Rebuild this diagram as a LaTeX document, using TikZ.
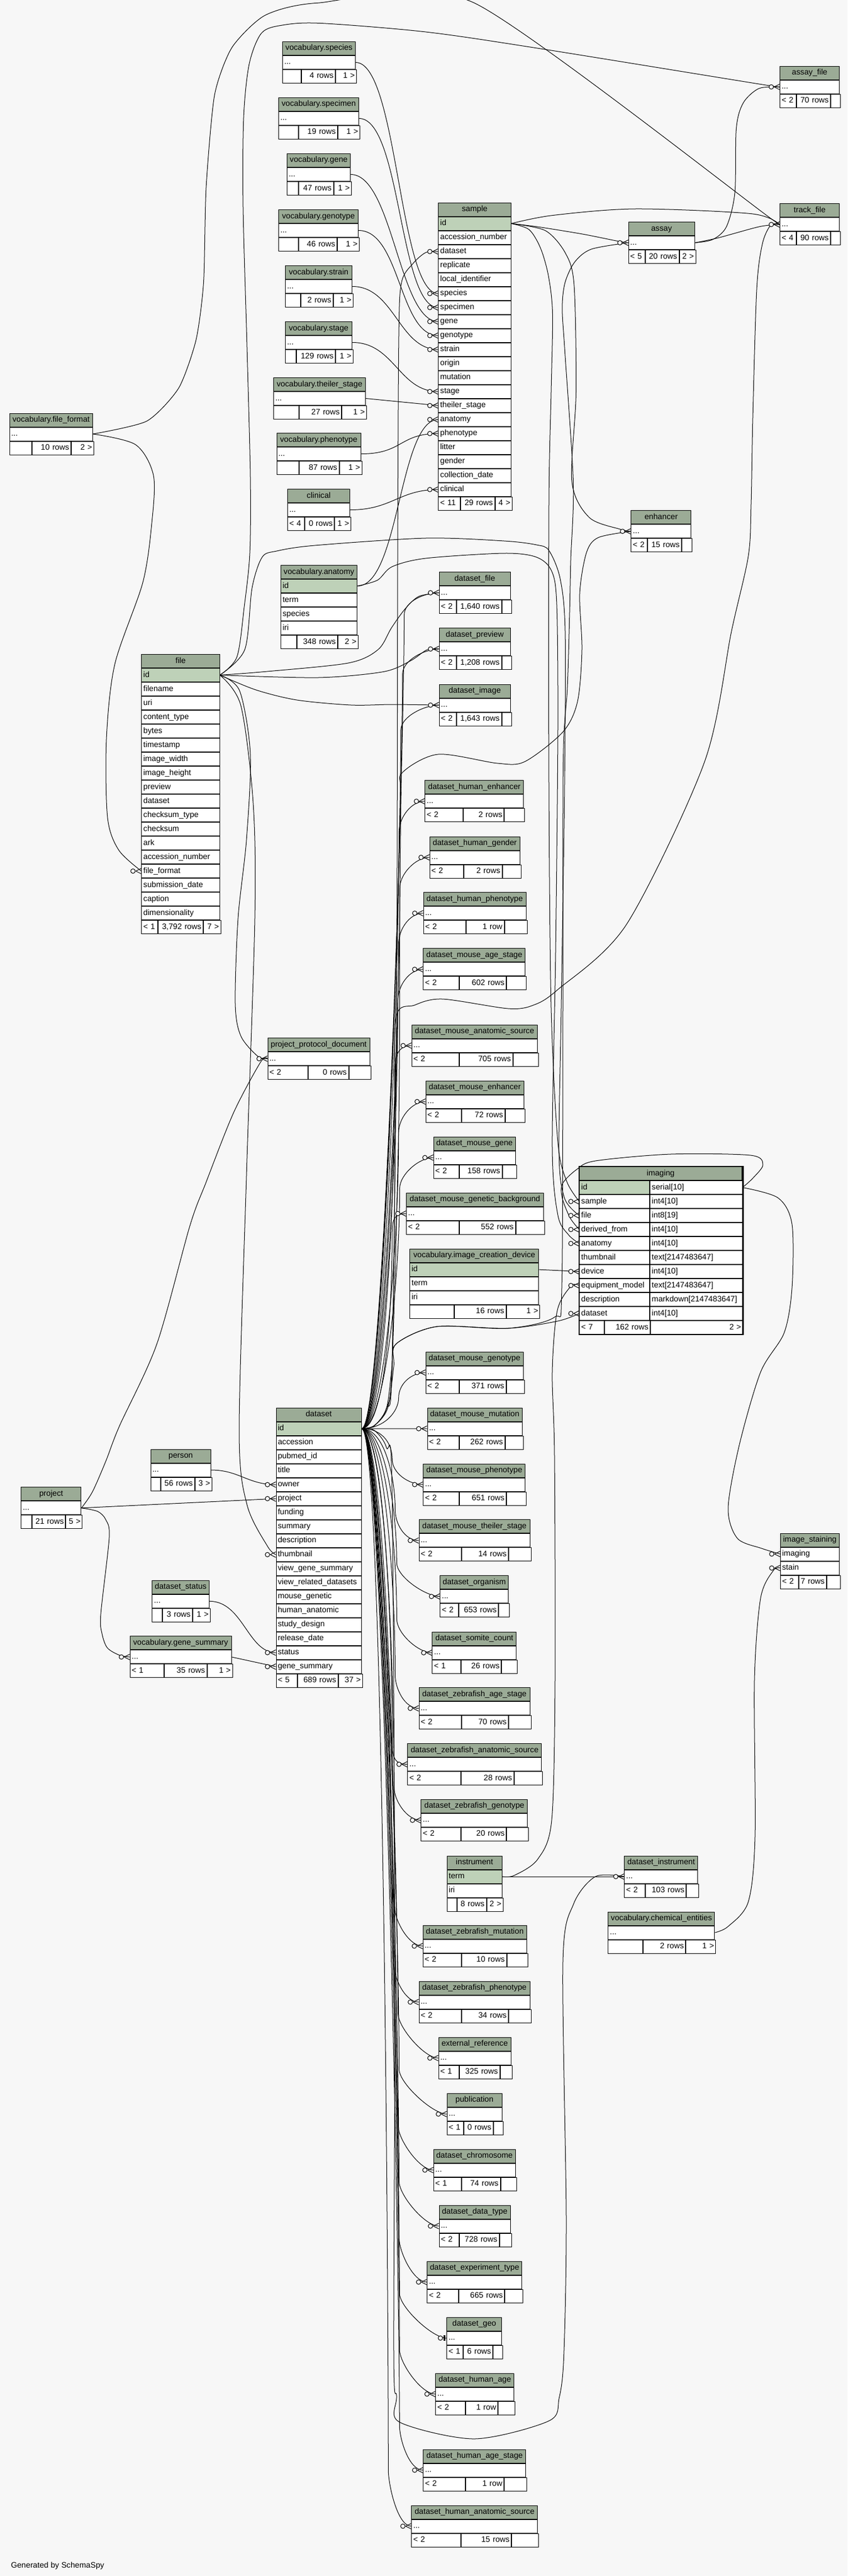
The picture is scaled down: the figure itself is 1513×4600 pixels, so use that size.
\documentclass[tikz,border=0pt]{standalone}
\usepackage{fontspec}
\setmainfont{Liberation Sans}
\usetikzlibrary{positioning}
\definecolor{bgc}{HTML}{F7F7F7}
\definecolor{hdrc}{HTML}{9BAB96}
\definecolor{pkc}{HTML}{BED1B8}
\newcommand\tabfont{\fontsize{14.2}{16}\selectfont}
\pgfdeclarelayer{bg}\pgfdeclarelayer{lines}\pgfsetlayers{bg,lines,main}
\tikzset{
  cell/.style={draw, fill=white, line width=1pt, font=\tabfont, inner xsep=3pt, inner ysep=0pt,
    minimum height=24pt, text height=10.5pt, text depth=3.5pt},
  hdr/.style={cell, fill=hdrc, align=center, anchor=north west},
  pk/.style={fill=pkc},
  edge/.style={draw, line width=1pt},
}
\newcommand\dbtab[5]{\pgfmathsetmacro\tabw{#4}\pgfmathsetmacro\tabtw{#4-6}%
  \node[hdr, text width=\tabtw pt] (#1) at (#2,#3) {#5};\gdef\lastcell{#1}}
\newcommand\dbfld[3][]{\node[cell, #1, align=left, text width=\tabtw pt, below=0pt of \lastcell] (#2) {#3};\xdef\lastcell{#2}}
\newcommand\dbtwo[4][]{\node[cell, #1, align=left, text width=119pt, anchor=north west] (#2) at (\lastcell.south west) {#3};
  \node[cell, align=left, text width=158.5pt, right=0pt of #2] (#2-t) {#4};\xdef\lastcell{#2}}
\newcommand\dbfoot[6]{\pgfmathsetmacro\fla{#2-6}\pgfmathsetmacro\flb{\tabw-#2-#3-6}\pgfmathsetmacro\flc{#3-6}%
  \node[cell, align=left, text width=\fla pt, anchor=north west] (#1-fl) at (\lastcell.south west) {\mbox{#4}};
  \node[cell, align=right, text width=\flb pt, right=0pt of #1-fl] (#1-fm) {\mbox{#5}};
  \node[cell, align=right, text width=\flc pt, right=0pt of #1-fm] (#1-fr) {\mbox{#6}};}
\newcommand\crow[1]{\draw[edge] ([xshift=-10pt]#1) -- ([yshift=5pt]#1) ([xshift=-10pt]#1) -- ([yshift=-5pt]#1);
  \draw[edge, fill=bgc] ([xshift=-15pt]#1) circle (4pt);}
\begin{document}
\begin{tikzpicture}[x=1pt, y=-1pt]
\useasboundingbox (0,0) rectangle (1513,4600);
\begin{pgfonlayer}{bg}
\fill[bgc] (0,0) rectangle (1513,4600);
\end{pgfonlayer}

\dbtab{vsp}{504}{74}{130}{vocabulary.species}\dbfld{vsp-x}{...}\dbfoot{vsp}{32.5}{37}{}{4 rows}{1 >}
\dbtab{vspec}{497}{174}{143}{vocabulary.specimen}\dbfld{vspec-x}{...}\dbfoot{vspec}{35}{39}{}{19 rows}{1 >}
\dbtab{vgene}{512}{274}{113}{vocabulary.gene}\dbfld{vgene-x}{...}\dbfoot{vgene}{20}{31.5}{}{47 rows}{1 >}
\dbtab{vgt}{497}{374}{142}{vocabulary.genotype}\dbfld{vgt-x}{...}\dbfoot{vgt}{35}{39}{}{46 rows}{1 >}
\dbtab{vstr}{509}{474}{119}{vocabulary.strain}\dbfld{vstr-x}{...}\dbfoot{vstr}{27}{35}{}{2 rows}{1 >}
\dbtab{vstage}{509}{574}{119}{vocabulary.stage}\dbfld{vstage-x}{...}\dbfoot{vstage}{19}{31}{}{129 rows}{1 >}
\dbtab{vts}{488}{674}{164}{vocabulary.theiler\_stage}\dbfld{vts-x}{...}\dbfoot{vts}{45}{44}{}{27 rows}{1 >}
\dbtab{vphen}{493.5}{773}{150}{vocabulary.phenotype}\dbfld{vphen-x}{...}\dbfoot{vphen}{39}{40}{}{87 rows}{1 >}
\dbtab{clin}{513}{873}{111}{clinical}\dbfld{clin-x}{...}\dbfoot{clin}{30}{28.6}{< 4}{0 rows}{1 >}
\dbtab{vanat}{501}{1009}{136}{vocabulary.anatomy}\dbfld[pk]{vanat-id}{id}\dbfld{vanat-term}{term}\dbfld{vanat-species}{species}\dbfld{vanat-iri}{iri}
\dbfoot{vanat}{27.6}{36}{}{348 rows}{2 >}
\dbtab{vff}{16.5}{737.5}{148.5}{vocabulary.file\_format}\dbfld{vff-x}{...}\dbfoot{vff}{39}{40}{}{10 rows}{2 >}

\dbtab{file}{252.4}{1168}{139.1}{file}
\dbfld[pk]{file-id}{id}
\foreach \k/\lbl in {filename/filename, uri/uri, ctype/content\_type, bytes/bytes, timestamp/timestamp,
  width/image\_width, height/image\_height, preview/preview, dataset/dataset, cstype/checksum\_type,
  checksum/checksum, ark/ark, accnum/accession\_number, fileformat/file\_format,
  subdate/submission\_date, caption/caption, dim/dimensionality}{\dbfld{file-\k}{\lbl}}
\dbfoot{file}{29}{30.5}{< 1}{3,792 rows}{7 >}

\dbtab{sample}{782.4}{361.7}{129.2}{sample}
\dbfld[pk]{sample-id}{id}
\foreach \k/\lbl in {accnum/accession\_number, dataset/dataset, replicate/replicate, localid/local\_identifier,
  species/species, specimen/specimen, gene/gene, genotype/genotype, strain/strain, origin/origin,
  mutation/mutation, stage/stage, theiler/theiler\_stage, anatomy/anatomy, phenotype/phenotype,
  litter/litter, gender/gender, coldate/collection\_date, clinical/clinical}{\dbfld{sample-\k}{\lbl}}
\dbfoot{sample}{39}{30}{< 11}{29 rows}{4 >}

\dbtab{assay}{1121.7}{396}{117.8}{assay}\dbfld{assay-x}{...}\dbfoot{assay}{29}{29}{< 5}{20 rows}{2 >}
\dbtab{afile}{1392}{117.7}{106}{assay\_file}\dbfld{afile-x}{...}\dbfoot{afile}{28.6}{17}{< 2}{70 rows}{}
\dbtab{tfile}{1392}{363.4}{106}{track\_file}\dbfld{tfile-x}{...}\dbfoot{tfile}{28.6}{17}{< 4}{90 rows}{}
\dbtab{enh}{1126.4}{911.3}{107}{enhancer}\dbfld{enh-x}{...}\dbfoot{enh}{29}{18.4}{< 2}{15 rows}{}

\dbtab{dsfile}{783.6}{1021}{127}{dataset\_file}\dbfld{dsfile-x}{...}\dbfoot{dsfile}{30}{17}{< 2}{1,640 rows}{}
\dbtab{dsprev}{783.6}{1121.4}{127}{dataset\_preview}\dbfld{dsprev-x}{...}\dbfoot{dsprev}{30}{17}{< 2}{1,208 rows}{}
\dbtab{dsimg}{783.6}{1221.6}{127}{dataset\_image}\dbfld{dsimg-x}{...}\dbfoot{dsimg}{30}{17}{< 2}{1,643 rows}{}
\dbtab{dhenh}{758.4}{1393.3}{176}{dataset\_human\_enhancer}\dbfld{dhenh-x}{...}\dbfoot{dhenh}{68}{36}{< 2}{2 rows}{}
\dbtab{dhgen}{766.7}{1493.5}{161}{dataset\_human\_gender}\dbfld{dhgen-x}{...}\dbfoot{dhgen}{60}{33}{< 2}{2 rows}{}
\dbtab{dhphen}{755.5}{1593.2}{183}{dataset\_human\_phenotype}\dbfld{dhphen-x}{...}\dbfoot{dhphen}{75}{40}{< 2}{1 row}{}
\dbtab{dmage}{755.3}{1693.4}{182}{dataset\_mouse\_age\_stage}\dbfld{dmage-x}{...}\dbfoot{dmage}{63.5}{35}{< 2}{602 rows}{}
\dbtab{dmanat}{734.7}{1829.6}{224}{dataset\_mouse\_anatomic\_source}\dbfld{dmanat-x}{...}\dbfoot{dmanat}{84}{45}{< 2}{705 rows}{}
\dbtab{dmenh}{759.7}{1929.6}{175}{dataset\_mouse\_enhancer}\dbfld{dmenh-x}{...}\dbfoot{dmenh}{63}{35}{< 2}{72 rows}{}
\dbtab{dmgene}{773.6}{2029.6}{146}{dataset\_mouse\_gene}\dbfld{dmgene-x}{...}\dbfoot{dmgene}{45}{25}{< 2}{158 rows}{}
\dbtab{dmgb}{725.2}{2129.6}{244.4}{dataset\_mouse\_genetic\_background}\dbfld{dmgb-x}{...}\dbfoot{dmgb}{93.5}{51}{< 2}{552 rows}{}
\dbtab{vicd}{731.3}{2229.6}{230}{vocabulary.image\_creation\_device}\dbfld[pk]{vicd-id}{id}\dbfld{vicd-term}{term}\dbfld{vicd-iri}{iri}
\dbfoot{vicd}{79}{59.6}{}{16 rows}{1 >}

\dbtab{img}{1034.2}{2083}{289.5}{imaging}
\dbtwo[pk]{img-id}{id}{serial[10]}
\dbtwo{img-sample}{sample}{int4[10]}
\dbtwo{img-file}{file}{int8[19]}
\dbtwo{img-derived}{derived\_from}{int4[10]}
\dbtwo{img-anatomy}{anatomy}{int4[10]}
\dbtwo{img-thumb}{thumbnail}{text[2147483647]}
\dbtwo{img-device}{device}{int4[10]}
\dbtwo{img-equip}{equipment\_model}{text[2147483647]}
\dbtwo{img-desc}{description}{markdown[2147483647]}
\dbtwo{img-dataset}{dataset}{int4[10]}
\dbfoot{img}{44}{164.5}{< 7}{162 rows}{2 >}
\draw[line width=2.5pt] (img.north west) rectangle (img-fr.south east);

\dbtab{dmgt}{759.7}{2413.5}{174}{dataset\_mouse\_genotype}\dbfld{dmgt-x}{...}\dbfoot{dmgt}{59}{32}{< 2}{371 rows}{}
\dbtab{dmmut}{762.5}{2513.7}{169}{dataset\_mouse\_mutation}\dbfld{dmmut-x}{...}\dbfoot{dmmut}{56}{32}{< 2}{262 rows}{}
\dbtab{dmphen}{755.3}{2613.5}{182}{dataset\_mouse\_phenotype}\dbfld{dmphen-x}{...}\dbfoot{dmphen}{63.5}{35}{< 2}{651 rows}{}
\dbtab{dmts}{747.5}{2713.4}{198}{dataset\_mouse\_theiler\_stage}\dbfld{dmts-x}{...}\dbfoot{dmts}{75}{39.5}{< 2}{14 rows}{}
\dbtab{dorg}{785.3}{2813.3}{122}{dataset\_organism}\dbfld{dorg-x}{...}\dbfoot{dorg}{33}{19}{< 2}{653 rows}{}
\dbtab{dsom}{771.4}{2913.8}{150}{dataset\_somite\_count}\dbfld{dsom-x}{...}\dbfoot{dsom}{51}{28}{< 1}{26 rows}{}
\dbtab{dzage}{747.5}{3013.1}{198}{dataset\_zebrafish\_age\_stage}\dbfld{dzage-x}{...}\dbfoot{dzage}{75}{39.5}{< 2}{70 rows}{}
\dbtab{dzanat}{727.4}{3113}{239}{dataset\_zebrafish\_anatomic\_source}\dbfld{dzanat-x}{...}\dbfoot{dzanat}{95}{50.7}{< 2}{28 rows}{}
\dbtab{dzgt}{751.4}{3212.9}{190}{dataset\_zebrafish\_genotype}\dbfld{dzgt-x}{...}\dbfoot{dzgt}{71}{39}{< 2}{20 rows}{}
\dbtab{instr}{797.6}{3313.5}{98}{instrument}\dbfld[pk]{instr-term}{term}\dbfld{instr-iri}{iri}\dbfoot{instr}{17}{29}{}{8 rows}{2 >}
\dbtab{dinstr}{1114.4}{3313.5}{131}{dataset\_instrument}\dbfld{dinstr-x}{...}\dbfoot{dinstr}{37}{22}{< 2}{103 rows}{}
\dbtab{vchem}{1085.4}{3413.5}{190}{vocabulary.chemical\_entities}\dbfld{vchem-x}{...}\dbfoot{vchem}{62}{53}{}{2 rows}{1 >}
\dbtab{dzmut}{754.7}{3437.6}{185}{dataset\_zebrafish\_mutation}\dbfld{dzmut-x}{...}\dbfoot{dzmut}{68}{37}{< 2}{10 rows}{}
\dbtab{dzphen}{747.5}{3537.6}{198}{dataset\_zebrafish\_phenotype}\dbfld{dzphen-x}{...}\dbfoot{dzphen}{75}{39.5}{< 2}{34 rows}{}
\dbtab{extref}{782.5}{3637.6}{129}{external\_reference}\dbfld{extref-x}{...}\dbfoot{extref}{36}{21}{< 1}{325 rows}{}
\dbtab{pub}{797.6}{3737.6}{98}{publication}\dbfld{pub-x}{...}\dbfoot{pub}{29}{17}{< 1}{0 rows}{}
\dbtab{dchr}{773.6}{3837.6}{146}{dataset\_chromosome}\dbfld{dchr-x}{...}\dbfoot{dchr}{49}{28}{< 1}{74 rows}{}
\dbtab{ddt}{783.5}{3937.6}{127}{dataset\_data\_type}\dbfld{ddt-x}{...}\dbfoot{ddt}{35}{21}{< 2}{728 rows}{}
\dbtab{dext}{762.3}{4037.6}{169}{dataset\_experiment\_type}\dbfld{dext-x}{...}\dbfoot{dext}{56}{32}{< 2}{665 rows}{}
\dbtab{dgeo}{797.3}{4137.6}{98}{dataset\_geo}\dbfld{dgeo-x}{...}\dbfoot{dgeo}{29}{17}{< 1}{6 rows}{}
\dbtab{dhage}{777.3}{4237.6}{140}{dataset\_human\_age}\dbfld{dhage-x}{...}\dbfoot{dhage}{53}{30}{< 2}{1 row}{}
\dbtab{dhas}{755.3}{4373.5}{183}{dataset\_human\_age\_stage}\dbfld{dhas-x}{...}\dbfoot{dhas}{75}{40}{< 2}{1 row}{}
\dbtab{dhanat}{734.3}{4473.5}{225}{dataset\_human\_anatomic\_source}\dbfld{dhanat-x}{...}\dbfoot{dhanat}{88}{48}{< 2}{15 rows}{}
\dbtab{istain}{1392.8}{2737.5}{105}{image\_staining}\dbfld{istain-imaging}{imaging}\dbfld{istain-stain}{stain}\dbfoot{istain}{32}{24}{< 2}{7 rows}{}
\dbtab{ppd}{477.5}{1853}{182}{project\_protocol\_document}\dbfld{ppd-x}{...}\dbfoot{ppd}{71}{39}{< 2}{0 rows}{}

\dbtab{ds}{492.5}{2513.6}{152.2}{dataset}
\dbfld[pk]{ds-id}{id}
\foreach \k/\lbl in {accession/accession, pubmed/pubmed\_id, title/title, owner/owner, project/project,
  funding/funding, summary/summary, description/description, thumbnail/thumbnail,
  viewgene/view\_gene\_summary, viewrel/view\_related\_datasets, mousegen/mouse\_genetic,
  humanana/human\_anatomic, study/study\_design, release/release\_date, status/status,
  genesummary/gene\_summary}{\dbfld{ds-\k}{\lbl}}
\dbfoot{ds}{37}{43}{< 5}{689 rows}{37 >}
\dbtab{person}{268.5}{2587.5}{107.2}{person}\dbfld{person-x}{...}\dbfoot{person}{17}{30}{}{56 rows}{3 >}
\dbtab{project}{37.3}{2655.3}{107.1}{project}\dbfld{project-x}{...}\dbfoot{project}{18.4}{29}{}{21 rows}{5 >}
\dbtab{dstat}{271.4}{2821.8}{101.4}{dataset\_status}\dbfld{dstat-x}{...}\dbfoot{dstat}{18}{31}{}{3 rows}{1 >}
\dbtab{vgs}{231.7}{2921.4}{180.8}{vocabulary.gene\_summary}\dbfld{vgs-x}{...}\dbfoot{vgs}{60}{45}{< 1}{35 rows}{1 >}

\node[font=\tabfont, anchor=base west] (credit) at (16,4585) {Generated by SchemaSpy};

\begin{pgfonlayer}{lines}
\foreach \p/\c in {vsp-x/sample-species, vspec-x/sample-specimen, vgene-x/sample-gene, vgt-x/sample-genotype,
  vstr-x/sample-strain, vstage-x/sample-stage, vphen-x/sample-phenotype, clin-x/sample-clinical, vanat-id/sample-anatomy}
  \draw[edge] (\p.east) .. controls +(75,0) and +(-70,0) .. (\c.west);
\draw[edge] (vts-x.east) -- (sample-theiler.west);
\draw[edge] plot[smooth] coordinates {(vanat-id.east) (674,1036) (700,1012) (760,997) (900,988) (958,995) (985,1020)
  (994,1080) (996,1300) (992,1700) (986,2050) (996,2170) (1015,2205) (img-anatomy.west)};

\draw[edge] plot[smooth] coordinates {(file-id.east) (423,1173) (436,1084) (446,988) (447,852) (441,620) (434,370)
  (435,210) (445,114) (467,59) (504,45) (572,41.5) (760,57) (959,86) (1355,150) (afile-x.west)};
\draw[edge] plot[smooth, tension=0.4] coordinates {(vff-x.east) (262,752) (319,693) (350,607) (363.5,504) (368,335)
  (383,170) (414,85) (472.6,27.7) (566,5.4) (847,5.4) (1376,390) (tfile-x.west)};
\draw[edge] plot[smooth] coordinates {(vff-x.east) (242,794) (274,849) (271,934) (255,1040) (205,1186) (190,1320)
  (192,1460) (212,1518) (file-fileformat.west)};
\draw[edge] plot[smooth] coordinates {(file-id.east) (471.5,1199.5) (621.7,1184) (675,1160) (699,1121) (723.5,1087)
  (747.7,1065) (dsfile-x.west)};
\draw[edge] plot[smooth] coordinates {(file-id.east) (568,1210) (684.7,1199.5) (733,1180) (762,1160.5) (dsprev-x.west)};
\draw[edge] plot[smooth] coordinates {(file-id.east) (457,1232) (530,1250) (626.6,1259) (700,1258) (dsimg-x.west)};
\draw[edge] plot[smooth] coordinates {(file-id.east) (428,1234) (447,1347) (440,1500) (425,1640) (420,1792) (430,1850)
  (460,1886) (ppd-x.west)};
\draw[edge] plot[smooth] coordinates {(file-id.east) (430,1260) (452,1434) (455,1640) (440,2100) (427,2555) (441,2687)
  (477.5,2761) (ds-thumbnail.west)};
\draw[edge] plot[smooth] coordinates {(file-id.east) (437,1160) (450,1050) (468,995) (494,984) (562,974) (760,961)
  (900,966) (958,973) (980,983) (1000,1033) (1009,1127) (1008,1400) (1002,1800) (998,2060) (1008,2140) (img-file.west)};

\draw[edge] plot[smooth] coordinates {(sample-id.east) (960,405) (1040,418) (1100,430) (assay-x.west)};
\draw[edge] plot[smooth] coordinates {(sample-id.east) (986.5,384.6) (1134.5,373) (1341.6,381.7) (tfile-x.west)};
\draw[edge] plot[smooth] coordinates {(sample-id.east) (944.6,410) (965,443) (979,492) (986.5,560) (984,700) (980,900)
  (980,1400) (984,1800) (996,2040) (1012,2110) (img-sample.west)};
\draw[edge] plot[smooth] coordinates {(sample-id.east) (974,412) (1010,453) (1025,510) (1028.5,700) (1021,860) (1052,924)
  (1107,945) (enh-x.west)};
\draw[edge] plot[smooth] coordinates {(assay-x.east) (1272.5,427.7) (1297,404.7) (1312,344) (1314.5,229.6) (1327,183.7)
  (1355,158) (afile-x.west)};
\draw[edge] plot[smooth] coordinates {(assay-x.east) (1282,424.8) (1356,404.7) (tfile-x.west)};

\draw[edge] plot[smooth] coordinates {(ds-id.east) (668,2546) (692,2515) (703,2440) (707,2400) (779,2369) (907,2372)
  (990,2352) (1003,2300) (1005,1800) (1005.5,1360) (1013,1227) (1017,1093) (1019,1000) (1023.5,861) (1008.7,631)
  (1003.8,551) (1008.7,505) (1026,468) (1055.6,445) (assay-x.west)};
\draw[edge] plot[smooth] coordinates {(ds-id.east) (668,2546) (690,2515) (700,2440) (712,2000) (714,1600) (716,1420)
  (718,1380) (782,1347) (888,1363) (937,1360) (1005,1307) (1031,1253) (1039,1160) (1035,1060) (1047,987) (1068,960)
  (enh-x.west)};
\draw[edge] plot[smooth] coordinates {(ds-id.east) (668,2546) (690,2515) (700,2440) (706,2000) (707,1818) (740,1795)
  (790,1784) (907,1801) (952,1795) (996,1767) (1119,1650) (1258,1360) (1306,1127) (1336,993) (1341,900) (1344,746)
  (1351,517) (1361,436) (1376,402) (tfile-x.west)};
\draw[edge] plot[smooth] coordinates {(ds-id.east) (668,2546) (690,2515) (700,2440) (707,2400) (779,2369) (907,2372)
  (996,2359) (img-dataset.west)};
\draw[edge] plot[smooth] coordinates {(ds-id.east) (668,2546) (690,2515) (700,2440) (708,1800) (710,1000) (712,600)
  (717,504) (737,471) (760,451) (sample-dataset.west)};
\draw[edge] plot[smooth] coordinates {(ds-id.east) (668,2554) (690,2585) (700,2660) (705,3500) (703,4200) (708,4278)
  (713,4325) (846.7,4355) (980,4323) (998.3,4282) (1006.7,4205) (1011,3960) (1005,3503) (1024,3400) (1063,3351)
  (dinstr-x.west)};
\foreach \c/\dx/\h/\k in {dsfile-x/62/40/250, dsprev-x/65/45/250, dsimg-x/68/45/250, dhenh-x/46/55/250,
  dhgen-x/53/55/250, dhphen-x/44/55/250, dmage-x/45/55/250, dmanat-x/30/45/250, dmenh-x/48/55/200,
  dmgene-x/60/55/170, dmgb-x/25/40/140, dmgt-x/48/45/25}
  \draw[edge] (ds-id.east) .. controls +(40,0) and +(0,\k) .. ([shift={(-\dx,\h)}]\c.west)
    .. controls +(0,-25) and +(-25,0) .. (\c.west);
\draw[edge] (ds-id.east) -- (dmmut-x.west);
\foreach \c/\dx/\h/\k in {dmphen-x/55/45/25, dmts-x/42/55/60, dorg-x/77/60/100, dsom-x/63/60/140,
  dzage-x/42/60/170, dzanat-x/27/40/200, dzgt-x/48/60/250, dzmut-x/50/70/250, dzphen-x/45/70/250,
  extref-x/72/80/250, pub-x/85/80/250, dchr-x/63/80/250, ddt-x/71/80/250, dext-x/50/80/250, dgeo-x/84/80/250,
  dhage-x/64/80/250, dhas-x/42/80/250, dhanat-x/41/100/250}
  \draw[edge] (ds-id.east) .. controls +(40,0) and +(0,-\k) .. ([shift={(-\dx,-\h)}]\c.west)
    .. controls +(0,25) and +(-25,0) .. (\c.west);

\draw[edge] plot[smooth] coordinates {(img-id-t.east) (1344,2104) (1362,2080) (1340,2063) (1197,2061) (1063,2073)
  (1030,2088) (1004,2114) (1004,2140) (1018,2175) (img-derived.west)};
\draw[edge] plot[smooth] coordinates {(img-id-t.east) (1389,2139) (1414,2186) (1414,2300) (1400,2380) (1358,2450)
  (1320,2580) (1300,2693) (1316.5,2747) (1360,2765) (istain-imaging.west)};
\draw[edge] plot[smooth] coordinates {(vchem-x.east) (1300,3440) (1336,3396) (1348,3280) (1347,3000) (1358,2853.5)
  (1380.5,2804.7) (istain-stain.west)};
\draw[edge] (instr-term.east) -- (dinstr-x.west);
\draw[edge] plot[smooth] coordinates {(instr-term.east) (918,3349) (960,3320) (985,3250) (991,3000) (990,2600)
  (986,2450) (995,2340) (1020,2296) (img-equip.west)};
\draw[edge] (vicd-id.east) -- (img-device.west);

\draw[edge] plot[smooth] coordinates {(project-x.east) (165,2664) (189,2609) (213,2547) (280,2400) (339,2189) (368,2111)
  (417,1987) (465,1897) (ppd-x.west)};
\draw[edge] (project-x.east) -- (ds-project.west);
\draw[edge] plot[smooth] coordinates {(project-x.east) (174.5,2699) (189,2714) (195,2745.5) (180,2881.7) (182,2916.7)
  (191.5,2942.4) (213,2955.6) (vgs-x.west)};
\draw[edge] (person-x.east) .. controls +(50,0) and +(-50,0) .. (ds-owner.west);
\draw[edge] (dstat-x.east) .. controls +(60,0) and +(-50,0) .. (ds-status.west);
\draw[edge] (vgs-x.east) -- (ds-genesummary.west);

\foreach \c in {sample-dataset, sample-species, sample-specimen, sample-gene, sample-genotype, sample-strain,
  sample-stage, sample-theiler, sample-anatomy, sample-phenotype, sample-clinical, assay-x, afile-x, tfile-x, enh-x,
  dsfile-x, dsprev-x, dsimg-x, dhenh-x, dhgen-x, dhphen-x, dmage-x, dmanat-x, dmenh-x, dmgene-x, dmgb-x, dmgt-x,
  dmmut-x, dmphen-x, dmts-x, dorg-x, dsom-x, dzage-x, dzanat-x, dzgt-x, dzmut-x, dzphen-x, extref-x, pub-x, dchr-x,
  ddt-x, dext-x, dhage-x, dhas-x, dhanat-x, dinstr-x, ppd-x, img-sample, img-file, img-derived, img-anatomy,
  img-device, img-equip, img-dataset, istain-imaging, istain-stain, file-fileformat, ds-owner, ds-project,
  ds-thumbnail, ds-status, ds-genesummary, vgs-x}
  \crow{\c.west}
\draw[line width=2.5pt] ([xshift=-4pt,yshift=5pt]dgeo-x.west) -- ([xshift=-4pt,yshift=-5pt]dgeo-x.west);
\draw[edge, fill=bgc] ([xshift=-11pt]dgeo-x.west) circle (4pt);
\end{pgfonlayer}
\end{tikzpicture}
\end{document}
